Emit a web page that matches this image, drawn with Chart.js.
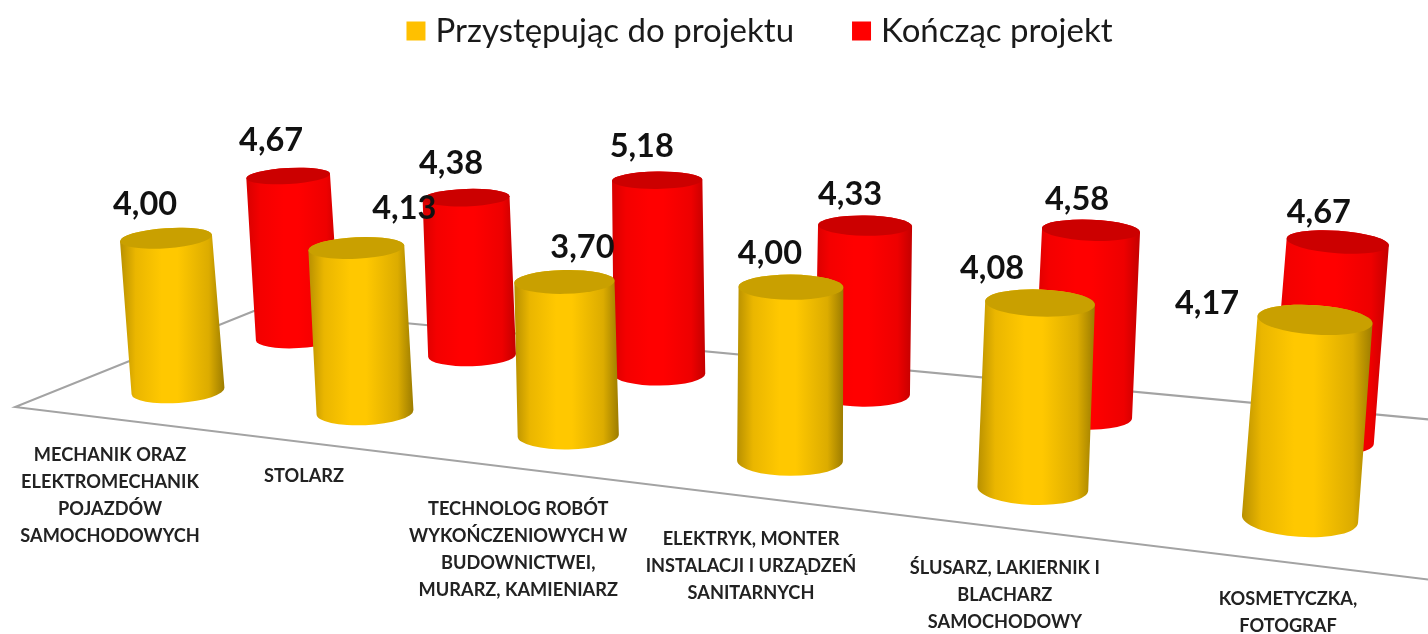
<!DOCTYPE html>
<html>
<head>
<meta charset="utf-8">
<script src="https://cdn.jsdelivr.net/npm/chart.js@4"></script>
<style>
html, body { margin: 0; background: #fff; }
canvas { display: block; }
</style>
</head>
<body>
<canvas id="cylinderChart" width="1428" height="634"></canvas>
<script>
const categories = [
    ['MECHANIK ORAZ', 'ELEKTROMECHANIK', 'POJAZDÓW', 'SAMOCHODOWYCH'],
    ['STOLARZ'],
    ['TECHNOLOG ROBÓT', 'WYKOŃCZENIOWYCH W', 'BUDOWNICTWEI,', 'MURARZ, KAMIENIARZ'],
    ['ELEKTRYK, MONTER', 'INSTALACJI I URZĄDZEŃ', 'SANITARNYCH'],
    ['ŚLUSARZ, LAKIERNIK I', 'BLACHARZ', 'SAMOCHODOWY'],
    ['KOSMETYCZKA,', 'FOTOGRAF']
];
const startValues = [4.00, 4.13, 3.70, 4.00, 4.08, 4.17];
const endValues = [4.67, 4.38, 5.18, 4.33, 4.58, 4.67];

// Perspective of the floor: category index i, row depth k -> screen
function project(i, k) {
    const w = 1 - 0.04 * i + 0.1 * k;
    return {
        x: (178 + 172.4 * i + 150 * k) / w,
        y: (391 + 4.84 * i - 19 * k) / w,
        w: w
    };
}

// Label nudges, relative to the lid of each cylinder / base of the front cylinder
const valueShift = [
    [[-21, -34], [48, -39], [18, -34], [-21, -34], [-48, -34], [-108, -16]],
    [[-17, -35], [-15, -34], [-15.5, -34], [-15, -31], [-14, -31], [-19, -29]]
];
const tickShift = [[-68, 64], [-61, 64], [-50, 74], [-39, 78], [-28, 80], [-12, 80]];

const bodyColors = [
    ['#b89000', '#eab600', '#ffc800', '#ffc800', '#dcac00', '#9c7c00'],
    ['#d80000', '#f40000', '#ff0000', '#ff0000', '#ee0000', '#c40000']
];
const lidColors = ['#c9a000', '#cc0000'];

function drawCylinder(ctx, el, k, i) {
    const p = project(i, k);
    const r = el.width / 2 / p.w;
    const h = (el.base - el.y) * el.$scale / p.w;
    const tx = p.x + (p.x - 750) * h * 0.000137;
    const ty = p.y - h;
    const rt = r * 0.99;
    const angB = (p.x - 750) * 0.00012;
    const angT = (tx - 750) * 0.00012;
    const hhB = r * (0.1 + 0.0004 * p.y);
    const hhT = rt * (0.1 + 0.0004 * ty) * 1.12;

    const grad = ctx.createLinearGradient(Math.min(tx - rt, p.x - r), 0, Math.max(tx + rt, p.x + r), 0);
    bodyColors[k].forEach((c, n) => grad.addColorStop([0, 0.15, 0.4, 0.55, 0.85, 1][n], c));
    ctx.fillStyle = grad;
    ctx.beginPath();
    ctx.ellipse(p.x, p.y, r, hhB, angB, 0, Math.PI);
    ctx.ellipse(tx, ty, rt, hhT, angT, Math.PI, Math.PI * 2);
    ctx.closePath();
    ctx.fill();

    ctx.fillStyle = lidColors[k];
    ctx.beginPath();
    ctx.ellipse(tx, ty, rt, hhT, angT, 0, Math.PI * 2);
    ctx.fill();
    return { x: tx, y: ty };
}

const cylinderPlugin = {
    id: 'cylinders',
    beforeDatasetsDraw(chart) {
        const ctx = chart.ctx;
        const yScale = chart.scales.y;
        const unit = (yScale.bottom - yScale.top) / (yScale.max - yScale.min);
        const lids = [[], []];

        // floor
        ctx.save();
        ctx.strokeStyle = '#a3a3a3';
        ctx.lineWidth = 2;
        const a = project(-0.546, -0.461), b = project(7, -0.461);
        const c = project(-0.546, 1.45), d = project(7, 1.45);
        ctx.beginPath();
        ctx.moveTo(c.x, c.y);
        ctx.lineTo(a.x, a.y);
        ctx.lineTo(b.x, b.y);
        ctx.moveTo(c.x, c.y);
        ctx.lineTo(d.x, d.y);
        ctx.stroke();

        // back row first
        [1, 0].forEach(k => {
            chart.getDatasetMeta(k).data.forEach((el, i) => {
                el.$scale = 38.2 / unit;
                lids[k][i] = drawCylinder(ctx, el, k, i);
            });
        });

        // value labels
        ctx.fillStyle = '#111';
        ctx.font = 'bold 32.5px Lato';
        ctx.textAlign = 'center';
        ctx.textBaseline = 'middle';
        [1, 0].forEach(k => {
            chart.data.datasets[k].data.forEach((v, i) => {
                ctx.fillText(v.toFixed(2).replace('.', ','),
                    lids[k][i].x + valueShift[k][i][0], lids[k][i].y + valueShift[k][i][1]);
            });
        });

        // category labels under the front row
        ctx.fillStyle = '#222';
        ctx.font = 'bold 18.2px Lato';
        chart.data.labels.forEach((lines, i) => {
            const p = project(i, 0);
            lines.forEach((line, n) => {
                ctx.fillText(line, p.x + tickShift[i][0], p.y + tickShift[i][1] + n * 27);
            });
        });
        ctx.restore();
        return false;
    }
};

new Chart(document.getElementById('cylinderChart'), {
    type: 'bar',
    data: {
        labels: categories,
        datasets: [
            { label: 'Przystępując do projektu', data: startValues, backgroundColor: '#ffc000', borderColor: '#ffc000', borderWidth: 13 },
            { label: 'Kończąc projekt', data: endValues, backgroundColor: '#ff0000', borderColor: '#ff0000', borderWidth: 13 }
        ]
    },
    options: {
        responsive: false,
        animation: false,
        layout: { padding: { left: 245.55, right: 148.05, top: -50, bottom: 0 } },
        datasets: { bar: { grouped: false, barPercentage: 1, categoryPercentage: 0.54 } },
        scales: {
            x: { display: false },
            y: { display: false, min: 0, max: 6 }
        },
        plugins: {
            tooltip: { enabled: false },
            legend: {
                position: 'top',
                labels: {
                    boxWidth: 6,
                    boxHeight: 6,
                    padding: 64.5,
                    color: '#1a1a1a',
                    font: { family: 'Lato', size: 33 }
                }
            }
        }
    },
    plugins: [cylinderPlugin]
});
</script>
</body>
</html>
